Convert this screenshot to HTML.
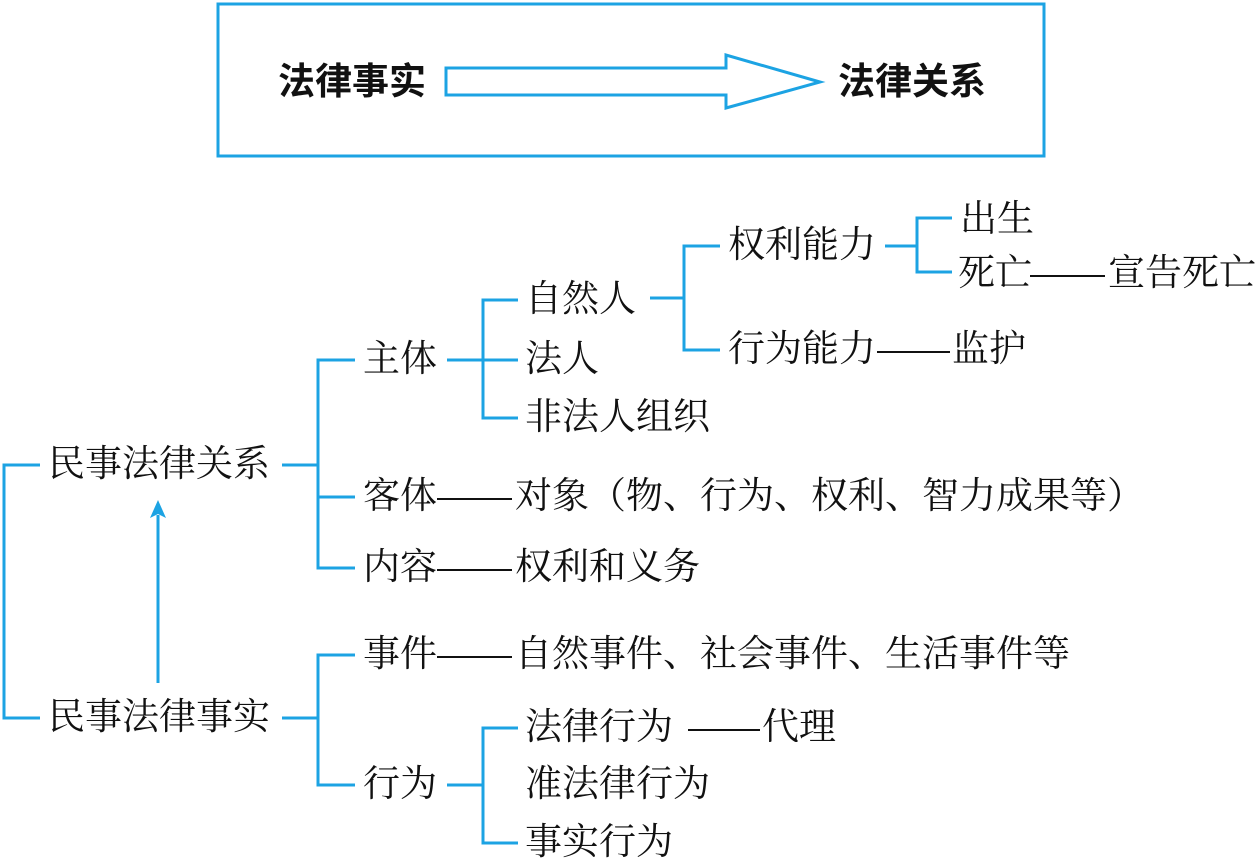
<!DOCTYPE html>
<html><head><meta charset="utf-8"><style>
body{margin:0;width:1259px;height:863px;background:#fff;position:relative;overflow:hidden;font-family:"Liberation Serif","Noto Serif CJK SC",serif;}
.t{position:absolute;font-size:37px;line-height:38px;color:#111;white-space:nowrap;}
.b{font-family:"Liberation Sans","Noto Sans CJK SC",sans-serif;font-weight:bold;font-size:37px;}
svg{position:absolute;left:0;top:0;}
</style></head><body>
<svg width="1259" height="863">
<g fill="none" stroke="#1ca3e3" stroke-width="3">
<rect x="218" y="4" width="826" height="152"/>
<polygon points="446,68 726,68 726,55 820,82 726,108 726,95 446,95"/>
<polyline points="40,465 4,465 4,718 40,718"/>
<line x1="158" y1="683" x2="158" y2="515"/>
<line x1="282" y1="465" x2="318" y2="465"/>
<polyline points="355,360 318,360 318,568 355,568"/>
<line x1="318" y1="497" x2="355" y2="497"/>
<line x1="447" y1="360" x2="518" y2="360"/>
<polyline points="518,300 483,300 483,418 518,418"/>
<line x1="650" y1="298" x2="684" y2="298"/>
<polyline points="720,246 684,246 684,350 720,350"/>
<line x1="885" y1="246" x2="917" y2="246"/>
<polyline points="952,218 917,218 917,272 952,272"/>
<line x1="282" y1="718" x2="318" y2="718"/>
<polyline points="355,655 318,655 318,785 355,785"/>
<line x1="447" y1="785" x2="483" y2="785"/>
<polyline points="518,728 483,728 483,843 518,843"/>
</g>
<polygon points="158,500 150,518 158,514 166,518" fill="#1ca3e3"/>
<g stroke="#111" stroke-width="2">
<line x1="1030" y1="276" x2="1105" y2="276"/>
<line x1="877" y1="352" x2="950" y2="352"/>
<line x1="437" y1="499" x2="512" y2="499"/>
<line x1="437" y1="570" x2="512" y2="570"/>
<line x1="437" y1="657" x2="512" y2="657"/>
<line x1="688" y1="730" x2="760" y2="730"/>
</g>
</svg>
<div class="t b" style="left:278px;top:63px">法律事实</div>
<div class="t b" style="left:838px;top:63px">法律关系</div>
<div class="t" style="left:960px;top:201px">出生</div>
<div class="t" style="left:728px;top:227px">权利能力</div>
<div class="t" style="left:958px;top:255px">死亡</div>
<div class="t" style="left:1108px;top:255px">宣告死亡</div>
<div class="t" style="left:525px;top:281px">自然人</div>
<div class="t" style="left:728px;top:331px">行为能力</div>
<div class="t" style="left:952px;top:331px">监护</div>
<div class="t" style="left:363px;top:341px">主体</div>
<div class="t" style="left:525px;top:341px">法人</div>
<div class="t" style="left:525px;top:399px">非法人组织</div>
<div class="t" style="left:48px;top:446px">民事法律关系</div>
<div class="t" style="left:363px;top:478px">客体</div>
<div class="t" style="left:515px;top:478px">对象（物、行为、权利、智力成果等）</div>
<div class="t" style="left:363px;top:549px">内容</div>
<div class="t" style="left:515px;top:549px">权利和义务</div>
<div class="t" style="left:363px;top:636px">事件</div>
<div class="t" style="left:515px;top:636px">自然事件、社会事件、生活事件等</div>
<div class="t" style="left:48px;top:699px">民事法律事实</div>
<div class="t" style="left:525px;top:709px">法律行为</div>
<div class="t" style="left:762px;top:709px">代理</div>
<div class="t" style="left:363px;top:766px">行为</div>
<div class="t" style="left:525px;top:766px">准法律行为</div>
<div class="t" style="left:525px;top:824px">事实行为</div>
</body></html>
